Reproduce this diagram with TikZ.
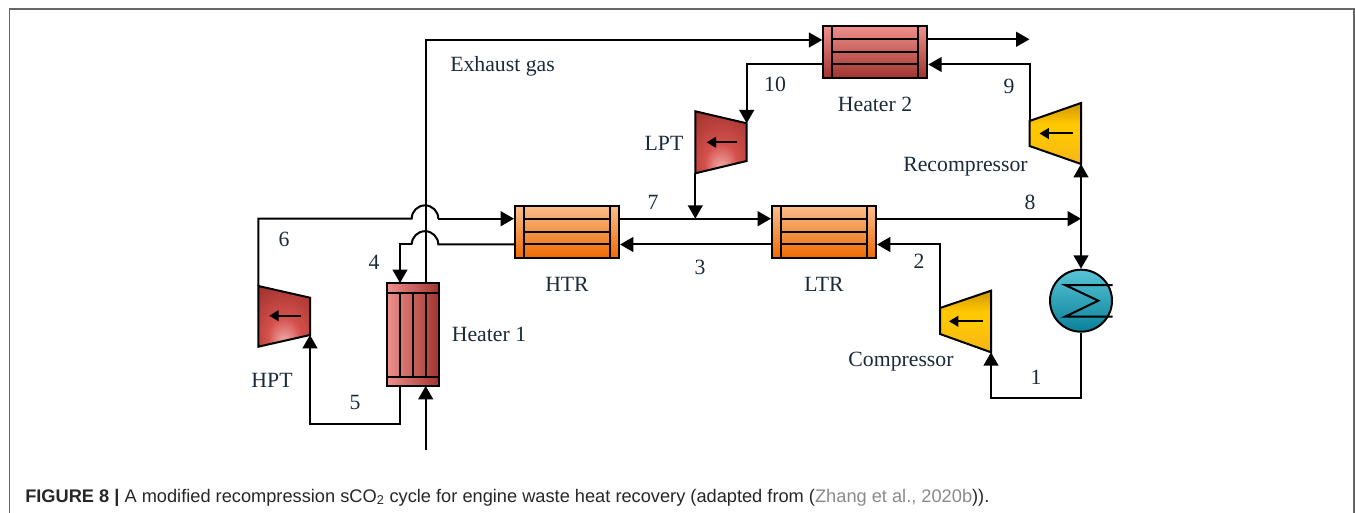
\documentclass[tikz,border=0pt]{standalone}
\usepackage{fontspec}
\setmainfont{Liberation Serif}
\newfontfamily\capfont{Liberation Sans}
\usetikzlibrary{arrows.meta}
\definecolor{labelc}{HTML}{1B2A3A}
\definecolor{capgray}{HTML}{8A8A8A}
\definecolor{redL}{HTML}{EE908C}
\definecolor{redM}{HTML}{D4504C}
\definecolor{redD}{HTML}{A2332F}
\definecolor{orangeL}{HTML}{F8BE8C}
\definecolor{orangeM}{HTML}{F79A4E}
\definecolor{orangeD}{HTML}{F06A00}
\definecolor{yelT}{HTML}{C88C00}
\definecolor{yelM}{HTML}{FFC800}
\definecolor{yelB}{HTML}{F5B51A}
\definecolor{coolT}{HTML}{58C4D6}
\definecolor{coolM}{HTML}{0CB0CA}
\definecolor{coolB}{HTML}{0A8199}
\pgfdeclareradialshading{turbshade}{\pgfpoint{0bp}{-22bp}}{%
  color(0bp)=(redL!70!white);color(16bp)=(redM);color(40bp)=(redD);color(70bp)=(redD!85!black)}
\pgfdeclareverticalshading{compshade}{100bp}{%
  color(0bp)=(yelB);color(25bp)=(yelB);color(50bp)=(yelM);color(58bp)=(yelM);color(78bp)=(yelT);color(100bp)=(yelT)}
\tikzset{
  x=0.75pt,y=-0.75pt,
  lw/.style={line width=1.5pt,draw=black},
  conn/.style={lw},
  flow/.style={lw,-{Triangle[length=10pt,width=11pt]}},
  small/.style={lw,-{Triangle[length=7pt,width=8pt]}},
  lab/.style={font=\fontsize{16.3pt}{18pt}\selectfont,text=labelc,inner sep=0pt,anchor=center},
  hxbox/.style={lw,inner sep=0pt,minimum width=78pt,minimum height=39.2pt},
  hxv/.style={lw,inner sep=0pt,minimum width=38.8pt,minimum height=77.3pt,left color=redL,middle color=redM,right color=redD},
  hxr/.style={hxbox,top color=redL,middle color=redM,bottom color=redD},
  hto/.style={hxbox,top color=orangeL,middle color=orangeM,bottom color=orangeD},
  turb/.style={lw,shading=turbshade},
  comp/.style={lw,shading=compshade},
}
\begin{document}
\begin{tikzpicture}
\useasboundingbox (0,0) rectangle (1355,513);
% frame
\draw[draw=black!60,line width=0.8pt] (9.5,513) -- (9.5,9) -- (1354,9) -- (1354,513);

% exchangers
\node[hxv] (h1) at (413,334.5) {};
\draw[lw] (387.2,292.7) -- (438.8,292.7);
\draw[lw] (387.2,376.7) -- (438.8,376.7);
\foreach \px in {400,412.7,425.7} \draw[lw] (\px,292.7) -- (\px,376.7);

\node[hxr] (h2) at (875.3,52) {};
\node[hto] (htr) at (567,232) {};
\node[hto] (ltr) at (824,232) {};
\foreach \cx/\y in {875.3/52,567/232,824/232}{
  \draw[lw] (\cx-43,\y-26.3) -- (\cx-43,\y+26.3);
  \draw[lw] (\cx+43,\y-26.3) -- (\cx+43,\y+26.3);
  \draw[lw] (\cx-43,\y-13) -- (\cx+43,\y-13);
  \draw[lw] (\cx-43,\y) -- (\cx+43,\y);
  \draw[lw] (\cx-43,\y+12.5) -- (\cx+43,\y+12.5);
}

% turbines
\coordinate (hptTL) at (258.3,286); \coordinate (hptTR) at (310,297.7);
\coordinate (hptBR) at (310,335); \coordinate (hptBL) at (258.3,346.7);
\draw[turb] (hptTL) -- (hptTR) -- (hptBR) -- (hptBL) -- cycle;
\coordinate (hptA) at (300.7,315.7); \coordinate (hptB) at (269.3,315.7);
\draw[small] (hptA) -- (hptB);

\coordinate (lptTL) at (695.3,111.3); \coordinate (lptTR) at (746.7,123.3);
\coordinate (lptBR) at (746.7,161); \coordinate (lptBL) at (695.3,173.3);
\draw[turb] (lptTL) -- (lptTR) -- (lptBR) -- (lptBL) -- cycle;
\coordinate (lptA) at (737,142.3); \coordinate (lptB) at (706.7,142.3);
\draw[small] (lptA) -- (lptB);

\coordinate (rcTL) at (1029.5,121); \coordinate (rcTR) at (1081,103);
\coordinate (rcBR) at (1081,164); \coordinate (rcBL) at (1029.5,146);
\draw[comp] (rcTL) -- (rcTR) -- (rcBR) -- (rcBL) -- cycle;
\coordinate (rcA) at (1073,133.5); \coordinate (rcB) at (1039.5,133.5);
\draw[small] (rcA) -- (rcB);

\coordinate (cpTL) at (940,308); \coordinate (cpTR) at (991,290.7);
\coordinate (cpBR) at (991,352.3); \coordinate (cpBL) at (940,334);
\draw[comp] (cpTL) -- (cpTR) -- (cpBR) -- (cpBL) -- cycle;
\coordinate (cpA) at (983,321.3); \coordinate (cpB) at (949,321.3);
\draw[small] (cpA) -- (cpB);

% cooler
\node[circle,lw,minimum size=46.5pt,inner sep=0pt,top color=coolT,middle color=coolM,bottom color=coolB] (cool) at (1081,300.7) {};
\draw[lw] (1112.7,285) -- (1065,285) -- (1098.3,300.7) -- (1065,316.7) -- (1112.7,316.7);

% junction coordinates
\coordinate (j8) at (1081,218.7);
\coordinate (j7) at (695.3,218.7);
\coordinate (in) at (425.7,450);
\coordinate (ex1) at (425.7,40);
\coordinate (exend) at (1029.5,39.3);

% connectors
\draw[flow] (h1.north -| ex1) -- (ex1) -- (h2.west |- ex1);
\draw[flow] (in) -- (425.7,386);
\draw[flow] (400,386) -- (400,424.3) -- (310,424.3) -- (hptBR);
\draw[conn] (hptTL) -- (258.3,218.7) -- (411.7,218.7) arc[start angle=180,end angle=360,radius=13.3];
\draw[flow] (438.3,218.7) -- (htr.west |- 438.3,218.7);
\draw[conn] (htr.west |- 0,244.5) -- (438.3,244.5) arc[start angle=360,end angle=180,radius=13.3];
\draw[flow] (411.7,244.5) -- (400,244.5) -- (400,283);
\draw[flow] (htr.east |- 0,218.7) -- (ltr.west |- 0,218.7);
\draw[flow] (ltr.west |- 0,244.5) -- (htr.east |- 0,244.5);
\draw[flow] (lptBL) -- (j7);
\draw[flow] (h2.west |- 0,64.5) -- (746.7,64.5) -- (lptTR);
\draw[flow] (h2.east |- exend) -- (exend);
\draw[flow] (rcTL) -- (1029.5,64.5) -- (h2.east |- 0,64.5);
\draw[flow] (ltr.east |- j8) -- (j8);
\draw[flow] (cpTL) -- (940,244.5) -- (ltr.east |- 0,244.5);
\draw[flow] (cool.south) -- (1081,398.3) -- (991,398.3) -- (cpBR);
\draw[flow] (j8) -- (cool.north);
\draw[flow] (j8) -- (rcBR);

% labels
\node[lab] (lEx) at (502.5,66) {Exhaust gas};
\node[lab] (lH2) at (875,104) {Heater 2};
\node[lab] (l10) at (775,84) {10};
\node[lab] (l9) at (1009,86) {9};
\node[lab] (lLPT) at (664,143) {LPT};
\node[lab] (lRc) at (965.5,167) {Recompressor};
\node[lab] (l7) at (653,202) {7};
\node[lab] (l8) at (1030,202) {8};
\node[lab] (l6) at (284,239) {6};
\node[lab] (l4) at (374,262) {4};
\node[lab] (l3) at (700,267) {3};
\node[lab] (l2) at (919,261) {2};
\node[lab] (lHTR) at (567,284) {HTR};
\node[lab] (lLTR) at (824,284) {LTR};
\node[lab] (lH1) at (489,334.5) {Heater 1};
\node[lab] (lCp) at (901,362) {Compressor};
\node[lab] (l1) at (1036,377) {1};
\node[lab] (lHPT) at (272,380) {HPT};
\node[lab] (l5) at (355,402) {5};

% caption
\node[anchor=base west,inner sep=0pt,font=\capfont\fontsize{13.67pt}{15pt}\selectfont,text=black!85] (cap) at (25,502)
 {{\bfseries FIGURE 8 |} A modified recompression sCO\textsubscript{2} cycle for engine waste heat recovery (adapted from ({\color{capgray}Zhang et al., 2020b})).};
\end{tikzpicture}
\end{document}
